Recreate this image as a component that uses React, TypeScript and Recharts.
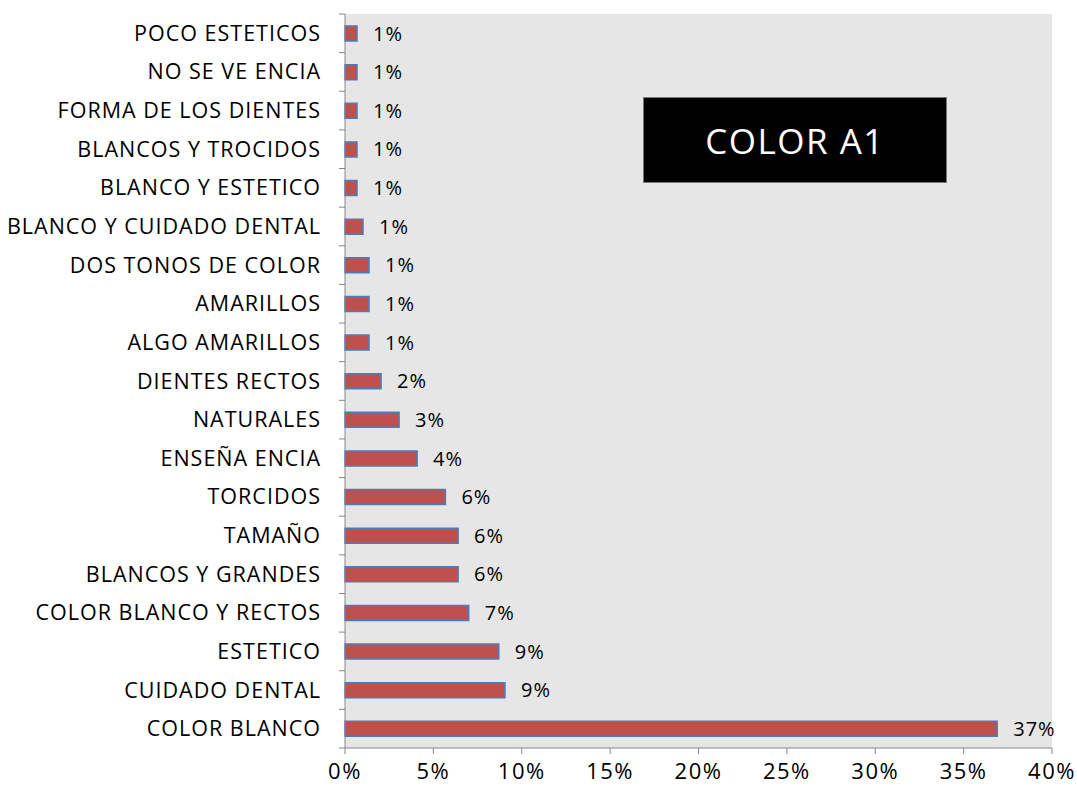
import React from "react";
import {
  BarChart,
  Bar,
  XAxis,
  YAxis,
  CartesianGrid,
  LabelList,
} from "recharts";

// top to bottom, as in the picture
const categorias = [
  "POCO ESTETICOS",
  "NO SE VE ENCIA",
  "FORMA DE LOS DIENTES",
  "BLANCOS Y TROCIDOS",
  "BLANCO Y ESTETICO",
  "BLANCO Y CUIDADO DENTAL",
  "DOS TONOS DE COLOR ",
  "AMARILLOS",
  "ALGO AMARILLOS",
  "DIENTES RECTOS ",
  "NATURALES",
  "ENSEÑA ENCIA",
  "TORCIDOS",
  "TAMAÑO",
  "BLANCOS Y GRANDES",
  "COLOR BLANCO Y RECTOS",
  "ESTETICO",
  "CUIDADO DENTAL",
  "COLOR BLANCO",
];

const porcentajes = [
  0.68, 0.68, 0.68, 0.68, 0.68, 1.02, 1.36, 1.36, 1.36, 2.04, 3.06, 4.08,
  5.68, 6.4, 6.4, 7.0, 8.7, 9.05, 36.9,
];

const ticksX = [0, 5, 10, 15, 20, 25, 30, 35, 40];

const data = categorias.map((nombre, i) => ({ nombre, valor: porcentajes[i] }));

const FONT = "'Open Sans', sans-serif";
const AXIS = "#868686";

// tick marks sit between the categories, like Excel does
function CategoryTick(props: any) {
  const { x, y, payload, index, visibleTicksCount } = props;
  const half = payload?.offset ?? 734 / categorias.length / 2;
  return (
    <g>
      <line x1={x + 19} x2={x + 25} y1={y - half} y2={y - half} stroke={AXIS} />
      {index === visibleTicksCount - 1 && (
        <line x1={x + 19} x2={x + 25} y1={y + half} y2={y + half} stroke={AXIS} />
      )}
      <text
        x={x + 1}
        y={y}
        dy="0.35em"
        textAnchor="end"
        fill="#000"
        fontSize={21.5}
        letterSpacing={1}
        fontFamily={FONT}
      >
        {payload.value.trimEnd()}
      </text>
    </g>
  );
}

export default function App() {
  return (
    <div style={{ position: "absolute", left: 0, top: 0, width: 1077, height: 793, background: "#fff" }}>
      <BarChart
        width={1077}
        height={793}
        data={data}
        layout="vertical"
        margin={{ top: 14, right: 25, bottom: 0, left: 0 }}
        barCategoryGap={0}
      >
        <CartesianGrid fill="#e6e6e6" horizontal={false} vertical={false} />
        <XAxis
          type="number"
          domain={[0, 40]}
          ticks={ticksX}
          tickFormatter={(v: number) => `${v}%`}
          height={45}
          tickSize={6}
          tickMargin={9}
          stroke={AXIS}
          tick={{ fill: "#000", fontSize: 22, fontFamily: FONT, letterSpacing: 1.5 }}
          interval={0}
        />
        <YAxis
          type="category"
          dataKey="nombre"
          width={345}
          tickLine={false}
          tickSize={0}
          tickMargin={25}
          stroke={AXIS}
          interval={0}
          tick={<CategoryTick />}
        />
        <Bar
          dataKey="valor"
          fill="#c0504d"
          stroke="#4a7ebb"
          strokeWidth={1.5}
          barSize={15}
          isAnimationActive={false}
        >
          <LabelList
            dataKey="valor"
            position="right"
            offset={16}
            formatter={(v: number) => `${Math.round(v)}%`}
            style={{ fill: "#000", fontSize: 20, fontFamily: FONT, letterSpacing: 1 }}
          />
        </Bar>
      </BarChart>
      <div
        style={{
          position: "absolute",
          left: 643,
          top: 97,
          width: 304,
          height: 86,
          background: "#000",
          border: "1px solid #777",
          boxSizing: "border-box",
          color: "#fff",
          fontFamily: FONT,
          fontSize: 35,
          letterSpacing: 1.5,
          display: "flex",
          alignItems: "center",
          justifyContent: "center",
        }}
      >
        COLOR A1
      </div>
    </div>
  );
}
